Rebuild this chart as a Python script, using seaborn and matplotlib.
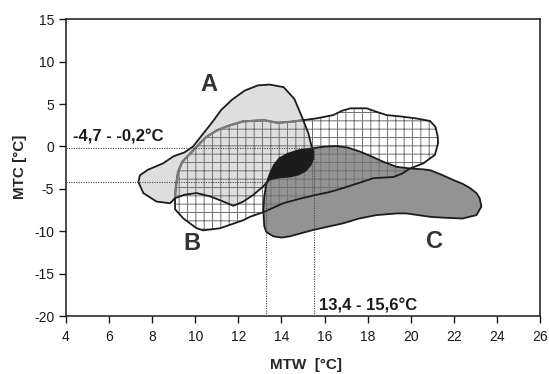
import numpy as np
import matplotlib
matplotlib.use("Agg")
import matplotlib.pyplot as plt
from matplotlib.patches import Polygon
import seaborn as sns

# ---- data ----
# Envelope A (MTW, MTC)
a_x = [7.36, 7.43, 7.80, 8.50, 9.00, 9.50, 9.90, 10.30, 10.80, 11.20, 11.70, 12.30, 12.90,
       13.45, 14.10, 14.60, 14.95, 15.25, 15.40, 15.48, 15.48, 15.35, 15.10, 14.80, 14.40,
       13.90, 13.45, 13.16, 12.70, 12.23, 11.77, 11.30, 10.70, 10.06, 9.50, 9.06, 8.83,
       8.20, 7.59]
a_y = [-4.20, -3.40, -2.75, -2.00, -1.15, -0.70, 0.00, 1.30, 2.90, 4.30, 5.50, 6.60, 7.20,
       7.30, 7.00, 5.60, 3.50, 1.55, 0.00, -0.60, -1.40, -2.20, -2.90, -3.30, -3.55,
       -3.65, -3.90, -4.70, -5.70, -6.50, -7.00, -6.50, -5.90, -5.50, -5.70, -6.10, -6.70,
       -6.50, -5.50]

# Envelope B (hatched)
b_x = [9.06, 9.06, 9.10, 9.20, 9.40, 9.70, 10.00, 10.50, 11.00, 11.50, 12.20, 13.20, 13.80,
       14.40, 15.00, 15.60, 16.40, 16.80, 17.20, 17.95, 18.40, 18.88, 19.50, 20.27, 20.90,
       21.15, 21.25, 21.27, 21.12, 20.58, 19.97, 19.60, 19.20, 18.26, 17.60, 16.87, 16.20,
       15.63, 14.80, 14.08, 13.16, 12.54, 12.23, 11.15, 10.37, 10.06, 9.45]
b_y = [-7.40, -6.00, -4.70, -3.00, -1.80, -1.00, -0.20, 1.10, 1.90, 2.40, 2.95, 3.10, 2.80,
       2.90, 3.10, 3.30, 3.70, 4.20, 4.50, 4.50, 4.10, 3.70, 3.55, 3.30, 3.00,
       2.30, 1.20, 0.38, -1.00, -2.00, -2.60, -3.20, -3.60, -3.75, -4.30, -4.90, -5.40,
       -5.70, -6.20, -6.70, -7.75, -8.30, -8.70, -9.65, -9.90, -9.65, -8.50]

# Envelope C (dark grey)
c_x = [13.30, 13.45, 13.65, 13.90, 14.30, 14.80, 15.47, 16.00, 16.56, 17.10, 17.64, 18.20,
       18.72, 19.34, 19.97, 20.58, 20.90, 21.40, 21.97, 22.40, 22.75, 23.05, 23.20, 23.28,
       23.05, 22.40, 21.50, 20.90, 19.80, 19.34, 18.40, 17.60, 16.87, 15.47, 14.39, 14.00,
       13.62, 13.30, 13.20, 13.16, 13.20]
c_y = [-4.40, -3.30, -2.20, -1.40, -0.85, -0.45, -0.20, -0.02, 0.05, -0.15, -0.60, -1.20,
       -1.80, -2.40, -2.60, -2.70, -2.80, -3.30, -3.95, -4.40, -4.90, -5.50, -6.10, -7.10,
       -8.10, -8.50, -8.40, -8.30, -7.90, -7.90, -8.10, -8.50, -9.06, -9.85, -10.60, -10.75,
       -10.60, -10.10, -9.40, -7.50, -5.90]

# overlap range markers
range_x = [13.3, 15.5]
range_y = [-4.15, -0.2]
range_x_label = "13,4 - 15,6°C"
range_y_label = "-4,7 - -0,2°C"

# labels
env_names = ["A", "B", "C"]
env_label_x = [10.63, 9.83, 21.12]
env_label_y = [7.35, -11.5, -11.2]

x_ticks = [4, 6, 8, 10, 12, 14, 16, 18, 20, 22, 24, 26]
y_ticks = [-20, -15, -10, -5, 0, 5, 10, 15]

# ---- style ----
sns.set_style("ticks")
plt.rcParams['font.family'] = ['Liberation Sans', 'DejaVu Sans']
plt.rcParams['axes.unicode_minus'] = False
plt.rcParams['hatch.linewidth'] = 0.7

fig = plt.figure(figsize=(5.49, 3.74), dpi=100)
ax = fig.add_axes([66 / 549, 58 / 374, 474 / 549, 296.7 / 374])
ax.set_xlim(4, 26)
ax.set_ylim(-20, 15)


def poly(xs, ys, **kw):
    p = Polygon(np.column_stack([xs, ys]), closed=True, joinstyle='round', **kw)
    ax.add_patch(p)
    return p


pa = poly(a_x, a_y, facecolor='#dedede', edgecolor='none', zorder=1)
pc = poly(c_x, c_y, facecolor='#939393', edgecolor='none', zorder=2)
pb = poly(b_x, b_y, facecolor='none', edgecolor='#727272', lw=0, hatch='++', zorder=3)
blob = poly(c_x, c_y, facecolor='#1c1c1c', edgecolor='none', zorder=4)
blob.set_clip_path(pa)

# outlines
poly(b_x, b_y, facecolor='none', edgecolor='#1c1c1c', lw=1.3, zorder=5)
bg = poly(b_x, b_y, facecolor='none', edgecolor='#7a7a7a', lw=1.6, zorder=5.5)
bg.set_clip_path(pa)
poly(c_x, c_y, facecolor='none', edgecolor='#1c1c1c', lw=1.3, zorder=6)
poly(a_x, a_y, facecolor='none', edgecolor='#1c1c1c', lw=1.3, zorder=6.5)

# dotted range lines
dot_kw = dict(color='#444444', lw=0.8, linestyle=(0, (1, 1.2)), zorder=7)
ax.plot([4, range_x[0]], [range_y[0], range_y[0]], **dot_kw)
ax.plot([4, range_x[1]], [range_y[1], range_y[1]], **dot_kw)
ax.plot([range_x[0], range_x[0]], [-20, range_y[0]], **dot_kw)
ax.plot([range_x[1], range_x[1]], [-20, range_y[1]], **dot_kw)

ax.text(4.32, 0.55, range_y_label, fontsize=12, fontweight='bold', color='#1a1a1a',
        ha='left', va='baseline', zorder=8)
ax.text(15.72, -19.3, range_x_label, fontsize=12, fontweight='bold', color='#1a1a1a',
        ha='left', va='baseline', zorder=8)

for name, lx, ly in zip(env_names, env_label_x, env_label_y):
    ax.text(lx, ly, name, fontsize=17, fontweight='bold', color='#333333',
            ha='center', va='center', zorder=8)

ax.set_xticks(x_ticks)
ax.set_yticks(y_ticks)
ax.tick_params(direction='out', length=5, width=1.0, labelsize=10, colors='#1a1a1a')
ax.tick_params(axis='x', pad=5)
ax.tick_params(axis='y', pad=3.5)
for s in ax.spines.values():
    s.set_linewidth(1.1)
    s.set_color('#1a1a1a')

ax.set_xlabel("MTW  [°C]", fontsize=11, fontweight='bold')
ax.set_ylabel("MTC [°C]", fontsize=11, fontweight='bold')
ax.xaxis.set_label_coords(0.506, -0.14)
ax.yaxis.set_label_coords(-0.082, 0.503)

fig.savefig("out.png", dpi=100)
